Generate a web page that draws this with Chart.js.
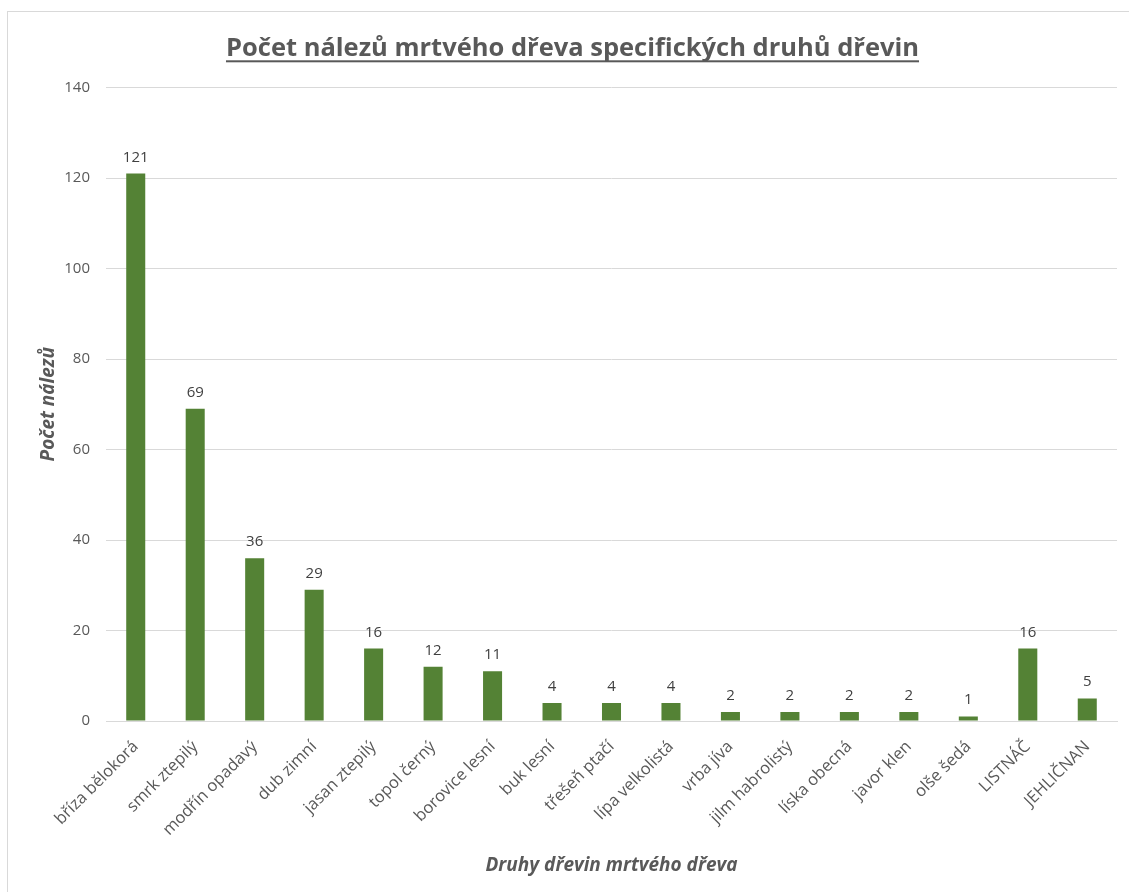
<!DOCTYPE html>
<html>
<head>
<meta charset="utf-8">
<script src="https://cdn.jsdelivr.net/npm/chart.js@4.4.0/dist/chart.umd.min.js"></script>
<style>
  html, body { margin: 0; padding: 0; background: #fff; overflow: hidden; }
  .frame { position: absolute; left: 7px; top: 11px; width: 1122px; height: 890px; border: 1px solid #d9d9d9; }
  .frame canvas { display: block; }
</style>
</head>
<body>
<div class="frame"><canvas id="graf" width="1122" height="880"></canvas></div>
<script>
const druhy = [
  'bříza bělokorá', 'smrk ztepilý', 'modřín opadavý', 'dub zimní', 'jasan ztepilý',
  'topol černý', 'borovice lesní', 'buk lesní', 'třešeň ptačí', 'lípa velkolistá',
  'vrba jíva', 'jilm habrolistý', 'líska obecná', 'javor klen', 'olše šedá',
  'LISTNÁČ', 'JEHLIČNAN'
];
const pocty = [121, 69, 36, 29, 16, 12, 11, 4, 4, 4, 2, 2, 2, 2, 1, 16, 5];
const osaY = [0, 20, 40, 60, 80, 100, 120, 140];

const pismo = '"Open Sans", sans-serif';
const seda = '#595959';

// popisky hodnot nad sloupci
const hodnoty = {
  id: 'hodnoty',
  afterDatasetsDraw(chart) {
    const ctx = chart.ctx;
    const meta = chart.getDatasetMeta(0);
    ctx.save();
    ctx.font = '15px ' + pismo;
    ctx.fillStyle = '#404040';
    ctx.textAlign = 'center';
    ctx.textBaseline = 'alphabetic';
    meta.data.forEach((bar, i) => {
      ctx.fillText(String(pocty[i]), bar.x, bar.y - 12);
    });
    ctx.restore();
  }
};

// podtržení nadpisu
const podtrzeni = {
  id: 'podtrzeni',
  afterDraw(chart) {
    const t = chart.titleBlock;
    if (!t) return;
    const ctx = chart.ctx;
    const opt = chart.options.plugins.title;
    ctx.save();
    ctx.font = 'bold ' + opt.font.size + 'px ' + pismo;
    const w = ctx.measureText(opt.text).width;
    const cx = (t.left + t.right) / 2;
    const cy = t.top + opt.padding.top + opt.font.size * 1.2 / 2;
    ctx.fillStyle = seda;
    ctx.fillRect(cx - w / 2, cy + 12, w, 2);
    ctx.restore();
  }
};

new Chart(document.getElementById('graf'), {
  type: 'bar',
  data: {
    labels: druhy,
    datasets: [{
      data: pocty,
      backgroundColor: '#548235',
      barPercentage: 0.64,
      categoryPercentage: 0.5
    }]
  },
  options: {
    responsive: false,
    animation: false,
    layout: { padding: { top: 21, right: 13, bottom: 0, left: 20 } },
    plugins: {
      legend: { display: false },
      tooltip: { enabled: false },
      title: {
        display: true,
        text: 'Počet nálezů mrtvého dřeva specifických druhů dřevin',
        color: seda,
        align: 'center',
        font: { family: pismo, size: 25.5, weight: 'bold' },
        padding: { top: 0, bottom: 24 }
      }
    },
    scales: {
      x: {
        grid: { display: false, drawTicks: false },
        border: { color: '#d9d9d9' },
        ticks: {
          color: seda,
          font: { family: pismo, size: 16.5 },
          minRotation: 45,
          maxRotation: 45,
          autoSkip: false,
          padding: 16
        },
        title: {
          display: true,
          text: 'Druhy dřevin mrtvého dřeva',
          color: seda,
          font: { family: pismo, size: 19, weight: 'bold', style: 'italic' },
          padding: { top: 0, bottom: 15 }
        },
        afterFit(scale) { scale.height = 171; }
      },
      y: {
        min: 0,
        max: 140,
        grid: { color: '#d9d9d9', drawTicks: false },
        border: { display: false },
        afterBuildTicks(scale) { scale.ticks = osaY.map(v => ({ value: v })); },
        ticks: {
          color: seda,
          font: { family: pismo, size: 15 },
          padding: 16
        },
        title: {
          display: true,
          text: 'Počet nálezů',
          color: seda,
          font: { family: pismo, size: 19, weight: 'bold', style: 'italic' },
          padding: { top: 9, bottom: 0 }
        },
        afterFit(scale) { scale.width = 78; }
      }
    }
  },
  plugins: [hodnoty, podtrzeni]
});
</script>
</body>
</html>
